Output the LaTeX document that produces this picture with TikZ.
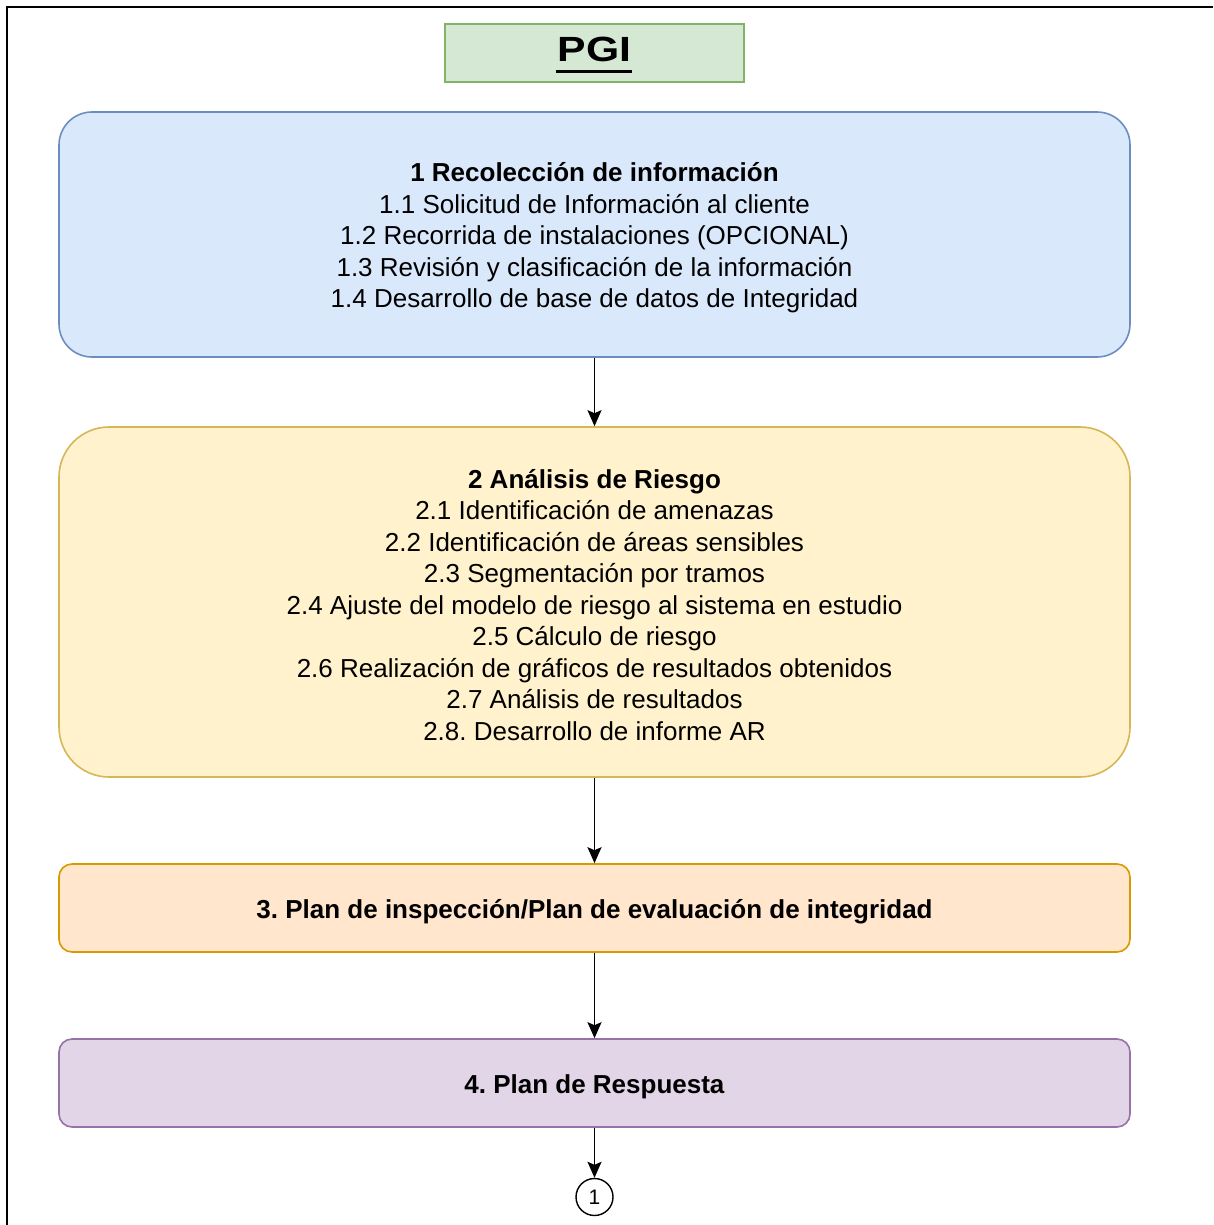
\documentclass[tikz,border=0pt]{standalone}
\usepackage{fontspec}
\setmainfont{Liberation Sans}
\usetikzlibrary{arrows.meta}
\frenchspacing

\definecolor{bluefill}{HTML}{DAE8FC}\definecolor{bluedraw}{HTML}{6C8EBF}
\definecolor{yelfill}{HTML}{FFF2CC}\definecolor{yeldraw}{HTML}{D6B656}
\definecolor{orfill}{HTML}{FFE6CC}\definecolor{ordraw}{HTML}{D79B00}
\definecolor{purfill}{HTML}{E1D5E7}\definecolor{purdraw}{HTML}{9673A6}
\definecolor{grnfill}{HTML}{D5E8D4}\definecolor{grndraw}{HTML}{82B366}

\tikzset{
  phase/.style={draw, line width=1.6pt, minimum width=1071pt, inner sep=0pt},
  phasetext/.style={align=center, inner sep=0pt,
    font=\fontsize{26}{31.5}\selectfont},
  flow/.style={line width=1.8pt, -{Stealth[length=16pt,width=14pt,inset=3pt]}},
}

\begin{document}
\begin{tikzpicture}[x=1pt,y=-1pt]
  \useasboundingbox (0,0) rectangle (1213,1225);
  % outer frame (top and left edges)
  \draw[line width=2.4pt] (7,1225) -- (7,7) -- (1213,7);

  % title with a heavy underline
  \node[draw=grndraw, fill=grnfill, line width=1.6pt, minimum width=299pt,
        minimum height=58pt, inner sep=0pt] (title) at (594.5,53) {};
  \node[inner sep=0pt] (titletext) at (594.5,49.5)
        {\scalebox{1.22}[1]{\fontsize{35}{40}\selectfont\bfseries PGI}};
  \draw[line width=3pt] (555.5,72) -- (632,72);

  % phase boxes
  \node[phase, fill=bluefill, draw=bluedraw, minimum height=245pt,
        rounded corners=33pt] (p1) at (594.5,234.5) {};
  \node[phasetext] (t1) at (594.5,238)
    {\textbf{1 Recolección de información}\\
     1.1 Solicitud de Información al cliente\\
     1.2 Recorrida de instalaciones (OPCIONAL)\\
     1.3 Revisión y clasificación de la información\\
     1.4 Desarrollo de base de datos de Integridad};

  \node[phase, fill=yelfill, draw=yeldraw, minimum height=350pt,
        rounded corners=50pt] (p2) at (594.5,602) {};
  \node[phasetext] (t2) at (594.5,605)
    {\textbf{2 Análisis de Riesgo}\\
     2.1 Identificación de amenazas\\
     2.2 Identificación de áreas sensibles\\
     2.3 Segmentación por tramos\\
     2.4 Ajuste del modelo de riesgo al sistema en estudio\\
     2.5 Cálculo de riesgo\\
     2.6 Realización de gráficos de resultados obtenidos\\
     2.7 Análisis de resultados\\
     2.8. Desarrollo de informe AR};

  \node[phase, fill=orfill, draw=ordraw, minimum height=88pt,
        rounded corners=13pt] (p3) at (594.5,908) {};
  \node[phasetext] (t3) at (594.5,911.5)
    {\textbf{3. Plan de inspección/Plan de evaluación de integridad}};

  \node[phase, fill=purfill, draw=purdraw, minimum height=88pt,
        rounded corners=13pt] (p4) at (594.5,1083) {};
  \node[phasetext] (t4) at (594.5,1086.5)
    {\textbf{4. Plan de Respuesta}};

  % off-page connector
  \node[circle, draw, line width=1.4pt, minimum size=37pt, inner sep=0pt,
        font=\fontsize{21}{24}\selectfont] (c1) at (594.5,1197) {1};

  \draw[flow] (p1) -- (p2);
  \draw[flow] (p2) -- (p3);
  \draw[flow] (p3) -- (p4);
  \draw[flow] (p4) -- (c1);
\end{tikzpicture}
\end{document}
